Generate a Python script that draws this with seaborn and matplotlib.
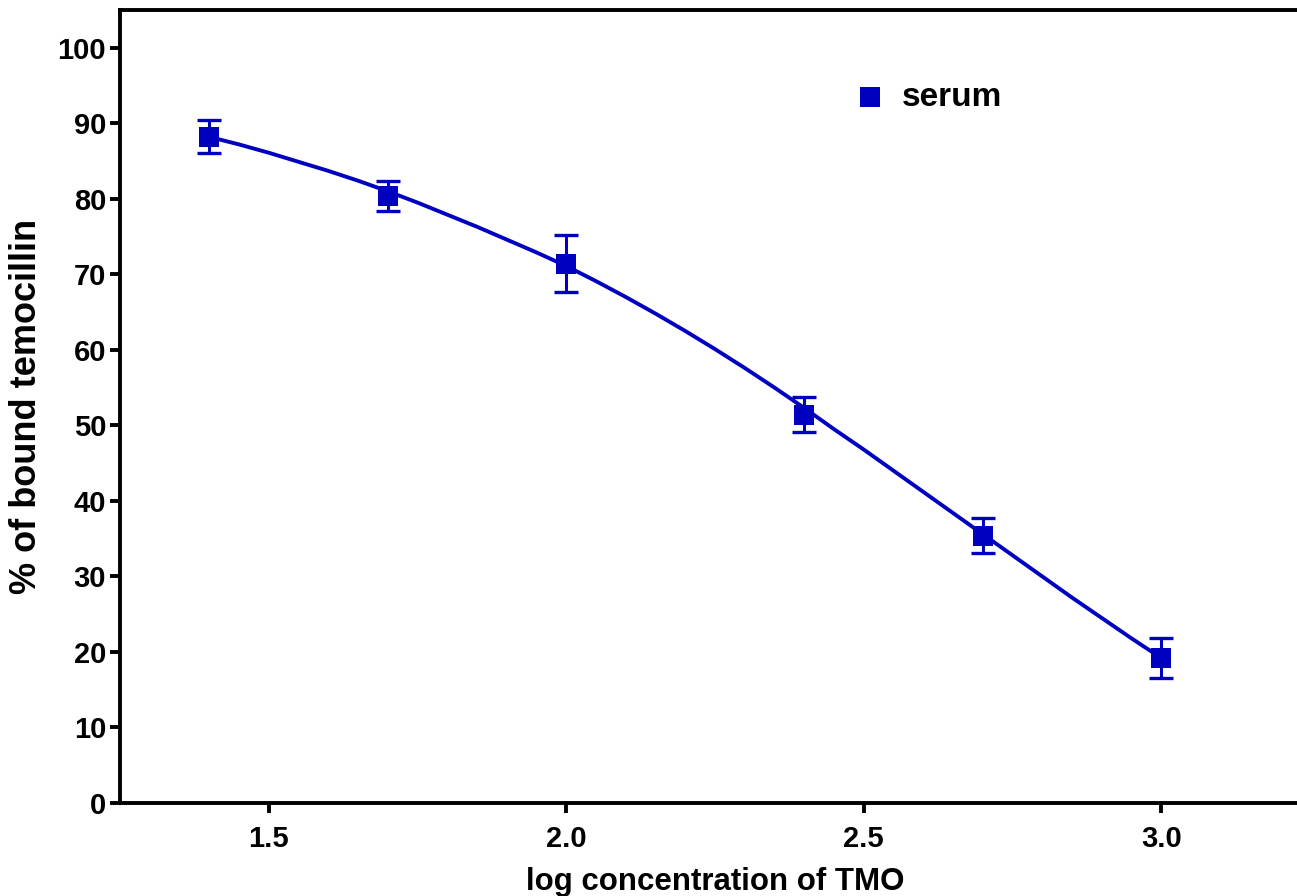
import numpy as np
import pandas as pd
import matplotlib
matplotlib.use('Agg')
import matplotlib.pyplot as plt
import seaborn as sns

# measured points (mean +/- error)
log_conc = [1.4, 1.7, 2.0, 2.4, 2.7, 3.0]
bound_pct = [88.2, 80.4, 71.4, 51.4, 35.4, 19.2]
bound_err = [2.2, 2.0, 3.8, 2.3, 2.3, 2.6]

# fitted curve
curve_x = [1.40, 1.45, 1.50, 1.55, 1.60, 1.65, 1.70, 1.75, 1.80, 1.85, 1.90, 1.95,
           2.00, 2.05, 2.10, 2.15, 2.20, 2.25, 2.30, 2.35, 2.40, 2.45, 2.50, 2.55,
           2.60, 2.65, 2.70, 2.75, 2.80, 2.85, 2.90, 2.95, 3.00]
curve_y = [88.2, 87.2, 86.1, 84.9, 83.7, 82.4, 81.0, 79.5, 77.9, 76.3, 74.6, 72.9,
           71.1, 69.1, 67.0, 64.8, 62.5, 60.1, 57.6, 55.0, 52.3, 49.5, 46.8, 44.0,
           41.2, 38.4, 35.6, 32.8, 30.0, 27.2, 24.5, 21.8, 19.2]

blue = '#0000C0'

sns.set_style('ticks')
plt.rcParams['font.family'] = ['Liberation Sans', 'DejaVu Sans']
plt.rcParams['font.weight'] = 'bold'
plt.rcParams.update({'text.color': 'black', 'axes.labelcolor': 'black',
                     'xtick.color': 'black', 'ytick.color': 'black'})

fig = plt.figure(figsize=(12.97, 8.96), dpi=100)
ax = fig.add_axes([120/1297, 1-803/896, 1190/1297, 793/896])

pts = pd.DataFrame({'x': log_conc, 'y': bound_pct})
fit = pd.DataFrame({'x': curve_x, 'y': curve_y})

sns.lineplot(data=fit, x='x', y='y', color=blue, linewidth=2.8, ax=ax, legend=False)
ax.errorbar(log_conc, bound_pct, yerr=bound_err, fmt='none', ecolor=blue,
            elinewidth=2.2, capsize=8.5, capthick=2.4, zorder=3)
sns.scatterplot(data=pts, x='x', y='y', marker='s', s=210, color=blue,
                edgecolor=blue, linewidth=0, ax=ax, label='serum', zorder=4)

ax.set_xlim(1.25, 3.25)
ax.set_ylim(0, 105)
ax.set_xticks([1.5, 2.0, 2.5, 3.0])
ax.set_xticklabels(['1.5', '2.0', '2.5', '3.0'])
ax.set_yticks(np.arange(0, 101, 10))

for side in ['left', 'bottom', 'top']:
    ax.spines[side].set_linewidth(2.8)
    ax.spines[side].set_color('black')
ax.spines['right'].set_visible(False)

ax.tick_params(axis='both', length=7, width=2.8, labelsize=21, pad=3, direction='out')
for lab in ax.get_xticklabels() + ax.get_yticklabels():
    lab.set_fontweight('bold')
ax.tick_params(axis='x', pad=9)

ax.set_xlabel('log concentration of TMO', fontsize=22.5, fontweight='bold', labelpad=10)
ax.set_ylabel('% of bound temocillin', fontsize=26, fontweight='bold', labelpad=10)

ax.legend(loc='center left', bbox_to_anchor=(0.605, 0.89), borderaxespad=0, frameon=False,
          prop={'size': 24, 'weight': 'bold'}, handlelength=1.0, handletextpad=0.45,
          markerscale=1.0)

fig.savefig('out.png', dpi=100)
